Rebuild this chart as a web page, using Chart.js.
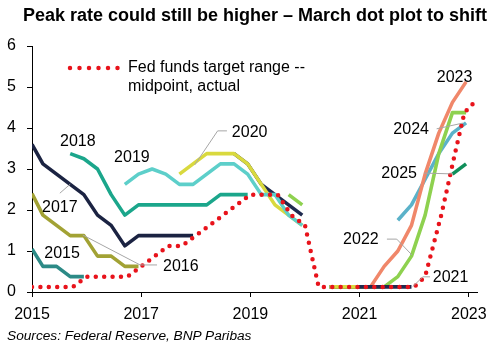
<!DOCTYPE html>
<html>
<head>
<meta charset="utf-8">
<script src="https://cdn.jsdelivr.net/npm/chart.js@4"></script>
<style>
    body { margin: 0; background: #fff; }
    #wrap { position: relative; width: 498px; height: 349px; font-family: "Liberation Sans", Arial, sans-serif; }
    #title { position: absolute; left: 23px; top: 5px; font-size: 18px; font-weight: bold; color: #000; white-space: nowrap; }
    #source { position: absolute; left: 7px; top: 328px; font-size: 13.7px; font-style: italic; color: #000; white-space: nowrap; }
    canvas { position: absolute; left: 0; top: 0; }
</style>
</head>
<body>
<div id="wrap">
    <canvas id="dotChart" width="498" height="349"></canvas>
    <div id="title">Peak rate could still be higher – March dot plot to shift</div>
    <div id="source">Sources: Federal Reserve, BNP Paribas</div>
</div>
<script>
// FOMC projection dates (Dec 2014 ... Dec 2022), as fractional years
const meetingX = [
    2015.0, 2015.2, 2015.45, 2015.7, 2015.95,
    2016.2, 2016.45, 2016.7, 2016.95,
    2017.2, 2017.45, 2017.7, 2017.95,
    2018.2, 2018.45, 2018.7, 2018.95,
    2019.2, 2019.45, 2019.7, 2019.95,
    2020.2, 2020.45, 2020.7, 2020.95,
    2021.2, 2021.45, 2021.7, 2021.95,
    2022.2, 2022.45, 2022.7, 2022.95
];

// Median dot for each year-end, starting at the given meeting index
const dots2015 = [1.05, 0.625, 0.625, 0.375, 0.375];
const dots2016 = [2.4, 1.875, 1.625, 1.375, 1.375, 0.875, 0.875, 0.625, 0.625];
const dots2017 = [3.6, 3.125, 2.875, 2.625, 2.375, 1.875, 1.625, 1.125, 1.375, 1.375, 1.375, 1.375, 1.375];
const dots2018 = [3.375, 3.25, 3.0, 2.375, 1.875, 2.125, 2.125, 2.125, 2.125, 2.125, 2.125, 2.375, 2.375, 2.375];
const dots2019 = [2.625, 2.875, 3.0, 2.875, 2.625, 2.625, 2.875, 3.125, 3.125, 2.875, 2.375, 2.375, 1.875, 1.625];
const dots2020 = [2.875, 3.125, 3.375, 3.375, 3.375, 3.125, 2.625, 2.125, 1.875, 1.625, null, 0.125, 0.125, 0.125];
const dots2021 = [3.375, 3.125, 2.625, 2.375, 2.125, 1.875, null, 0.125, 0.125, 0.125, 0.125, 0.125, 0.125, 0.125];
const dots2022 = [2.375, 2.125, null, 0.125, 0.125, 0.125, 0.125, 0.125, 0.375, 0.875, 1.875, 3.375, 4.375, 4.375];
const dots2023 = [0.125, 0.125, 0.125, 0.625, 1.0, 1.625, 2.875, 3.875, 4.625, 5.125];
const dots2024 = [1.75, 2.125, 2.75, 3.375, 3.875, 4.125];
const dots2025 = [2.875, 3.125];

// Fed funds target range midpoint, actual
const actualX = [
    2015.0, 2015.25, 2015.5, 2015.75, 2016.0, 2016.25, 2016.5, 2016.75,
    2017.0, 2017.25, 2017.5, 2017.75, 2018.0, 2018.25, 2018.5, 2018.75,
    2019.0, 2019.25, 2019.5, 2019.75, 2020.0, 2020.25, 2020.5, 2020.75,
    2021.0, 2021.25, 2021.5, 2021.75, 2022.0, 2022.2, 2022.5, 2022.75,
    2022.92, 2023.1
];
const actualRate = [
    0.125, 0.125, 0.125, 0.125, 0.375, 0.375, 0.375, 0.375,
    0.625, 0.875, 1.125, 1.125, 1.375, 1.625, 1.875, 2.125,
    2.375, 2.375, 2.375, 1.875, 1.625, 0.125, 0.125, 0.125,
    0.125, 0.125, 0.125, 0.125, 0.125, 0.375, 1.9, 3.4,
    4.375, 4.625
];

const xTicks = [2015, 2017, 2019, 2021, 2023];
const yTicks = [0, 1, 2, 3, 4, 5, 6];

const FONT = '"Liberation Sans", Arial, sans-serif';
const RED = '#e8131b';

function toPoints(start, values) {
    return values.map((v, i) => ({ x: meetingX[start + i], y: v }));
}

const dotSeries = [
    { label: '2015', start: 0, values: dots2015, color: '#2c8a86' },
    { label: '2016', start: 0, values: dots2016, color: '#a2a234' },
    { label: '2017', start: 0, values: dots2017, color: '#1b2342' },
    { label: '2018', start: 3, values: dots2018, color: '#1ba68b' },
    { label: '2019', start: 7, values: dots2019, color: '#5dcfca' },
    { label: '2020', start: 11, values: dots2020, color: '#d9d93e' },
    { label: '2021', start: 15, values: dots2021, color: '#1f2a4f' },
    { label: '2022', start: 19, values: dots2022, color: '#8ed14f' },
    { label: '2023', start: 23, values: dots2023, color: '#f0876a' },
    { label: '2024', start: 27, values: dots2024, color: '#5bb2c9' },
    { label: '2025', start: 31, values: dots2025, color: '#0f8f5a' }
];

// Year labels: text anchor (year, rate), alignment, optional leader line
const yearLabels = [
    { text: '2015', at: [2015.55, 0.93], align: 'center' },
    { text: '2016', at: [2017.4, 0.63], align: 'left', leader: [[2015.93, 1.39], [2016.98, 0.66], [2017.29, 0.66]] },
    { text: '2017', at: [2015.51, 2.07], align: 'center', leader: [[2015.51, 2.41], [2015.7, 2.63]] },
    { text: '2018', at: [2015.84, 3.68], align: 'center' },
    { text: '2019', at: [2016.83, 3.29], align: 'center' },
    { text: '2020', at: [2018.66, 3.9], align: 'left', leader: [[2018.57, 3.93], [2018.4, 3.93], [2017.98, 3.1]] },
    { text: '2021', at: [2022.34, 0.34], align: 'left', leader: [[2022.29, 0.37], [2022.16, 0.37], [2021.97, 0.13]] },
    { text: '2022', at: [2021.35, 1.29], align: 'right', leader: [[2021.5, 1.29], [2021.68, 1.29], [2021.96, 0.9]] },
    { text: '2023', at: [2022.74, 5.24], align: 'center' },
    { text: '2024', at: [2022.27, 3.95], align: 'right', leader: [[2022.41, 3.98], [2022.89, 4.12]] },
    { text: '2025', at: [2022.05, 2.88], align: 'right', leader: [[2022.18, 2.9], [2022.71, 2.88]] }
];

const labelPlugin = {
    id: 'yearLabels',
    afterDatasetsDraw(chart) {
        const { ctx, scales: { x, y } } = chart;
        ctx.save();
        // leader lines
        ctx.strokeStyle = '#a6a6a6';
        ctx.lineWidth = 1;
        yearLabels.forEach(l => {
            if (!l.leader) return;
            ctx.beginPath();
            l.leader.forEach((p, i) => {
                const px = x.getPixelForValue(p[0]);
                const py = y.getPixelForValue(p[1]);
                if (i === 0) ctx.moveTo(px, py); else ctx.lineTo(px, py);
            });
            ctx.stroke();
        });
        ctx.fillStyle = '#000';
        ctx.font = '16px ' + FONT;
        ctx.textBaseline = 'middle';
        yearLabels.forEach(l => {
            ctx.textAlign = l.align;
            ctx.fillText(l.text, x.getPixelForValue(l.at[0]), y.getPixelForValue(l.at[1]));
        });

        // legend for the actual rate
        ctx.strokeStyle = RED;
        ctx.lineWidth = 4.5;
        ctx.lineCap = 'round';
        ctx.setLineDash([0, 9.5]);
        ctx.beginPath();
        ctx.moveTo(70, 68);
        ctx.lineTo(119, 68);
        ctx.stroke();
        ctx.setLineDash([]);
        ctx.textAlign = 'left';
        ctx.fillText('Fed funds target range --', 128, 68);
        ctx.fillText('midpoint, actual', 128, 87);
        ctx.restore();
    }
};

const datasets = [{
    label: 'Fed funds target range -- midpoint, actual',
    data: actualX.map((v, i) => ({ x: v, y: actualRate[i] })),
    borderColor: RED,
    borderWidth: 4.5,
    borderDash: [0, 8.4],
    borderCapStyle: 'round',
    pointRadius: 0,
    tension: 0
}];

dotSeries.forEach(s => {
    datasets.push({
        label: s.label,
        data: toPoints(s.start, s.values),
        borderColor: s.color,
        borderWidth: 3.6,
        borderJoinStyle: 'round',
        pointRadius: 0,
        spanGaps: false,
        tension: 0
    });
});

new Chart(document.getElementById('dotChart'), {
    type: 'line',
    data: { datasets: datasets },
    options: {
        responsive: false,
        animation: false,
        layout: { padding: { top: 46, right: 21, left: 0, bottom: 0 } },
        plugins: {
            legend: { display: false },
            tooltip: { enabled: false }
        },
        scales: {
            x: {
                type: 'linear',
                min: 2015,
                max: 2023.15,
                afterBuildTicks: scale => { scale.ticks = xTicks.map(v => ({ value: v })); },
                afterFit: scale => { scale.height = 57; },
                border: { color: '#000', width: 1 },
                grid: { drawOnChartArea: false, drawTicks: true, tickLength: 5, color: '#000' },
                ticks: {
                    color: '#000',
                    font: { family: FONT, size: 16 },
                    padding: 8,
                    maxRotation: 0,
                    callback: v => String(v)
                }
            },
            y: {
                min: 0,
                max: 6,
                afterBuildTicks: scale => { scale.ticks = yTicks.map(v => ({ value: v })); },
                afterFit: scale => { scale.width = 32; },
                border: { color: '#000', width: 1 },
                grid: { drawOnChartArea: false, drawTicks: true, tickLength: 5, color: '#000' },
                ticks: {
                    color: '#000',
                    font: { family: FONT, size: 16 },
                    padding: 11,
                    callback: v => String(v)
                }
            }
        }
    },
    plugins: [labelPlugin]
});
</script>
</body>
</html>
